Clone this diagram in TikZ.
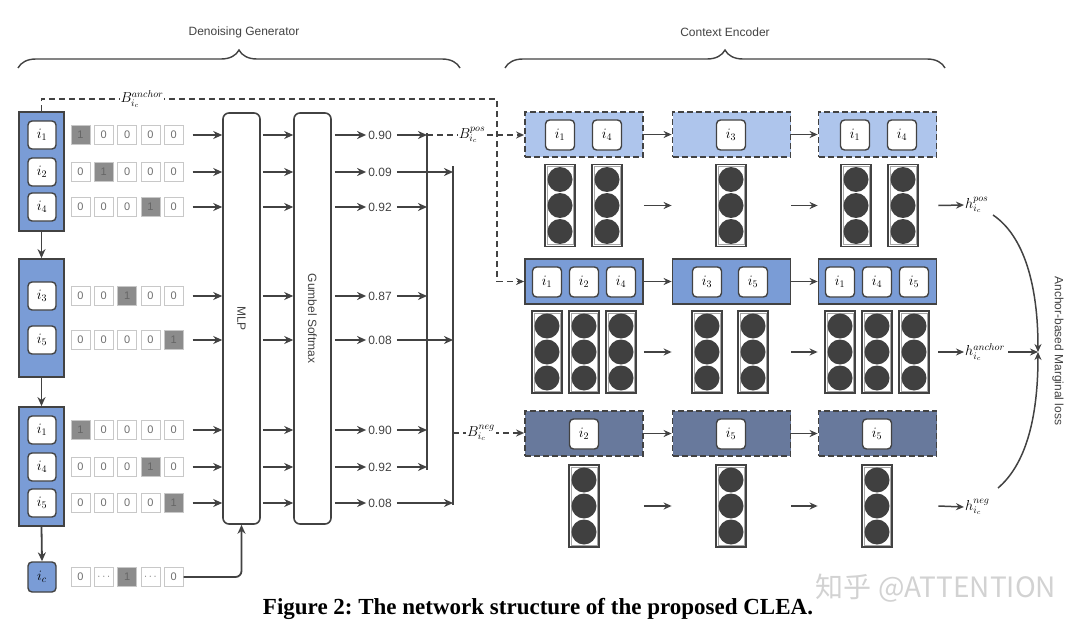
\documentclass[tikz,border=0pt]{standalone}
\usepackage{fontspec}
\setsansfont{Liberation Sans}
\newfontfamily\capfont{Liberation Serif}
\newfontfamily\cjkfont{Noto Sans CJK SC}
\usetikzlibrary{arrows.meta,decorations.pathreplacing,calc}
\definecolor{dk}{RGB}{66,66,66}
\definecolor{lblue}{RGB}{122,156,214}
\definecolor{pblue}{RGB}{174,197,236}
\definecolor{nblue}{RGB}{104,121,156}
\definecolor{neuc}{RGB}{64,64,64}
\definecolor{hotc}{RGB}{140,140,140}
\definecolor{cellb}{RGB}{200,200,200}
\definecolor{celltx}{RGB}{110,110,110}
\frenchspacing
\begin{document}
\begin{tikzpicture}[x=1pt,y=-1pt,
  arr/.style={draw=dk, line width=1.8pt, -{Stealth[length=9pt,width=8pt]}},
  arrs/.style={draw=dk, line width=1.5pt, -{Stealth[length=8pt,width=7pt]}},
  dsh/.style={draw=dk, line width=1.4pt, dash pattern=on 6pt off 4pt},
  item/.style={draw=dk, fill=white, rounded corners=4pt, line width=1.4pt, minimum width=28pt, minimum height=28pt, inner sep=0pt, font=\fontsize{14}{14}\selectfont},
  ritem/.style={item, minimum width=29pt, minimum height=30pt},
  lgrp/.style={draw=dk, line width=1.8pt, fill=lblue, minimum width=45pt, inner sep=0pt},
  agrp/.style={draw=dk, line width=1.8pt, fill=lblue, minimum width=118pt, minimum height=45pt, inner sep=0pt},
  pgrp/.style={agrp, fill=pblue, dash pattern=on 6pt off 3pt},
  ngrp/.style={agrp, fill=nblue, dash pattern=on 6pt off 3pt},
  cell/.style={draw=cellb, fill=white, line width=0.8pt, minimum size=19pt, inner sep=0pt, text=celltx, font=\sffamily\fontsize{11}{11}\selectfont},
  hot/.style={cell, fill=hotc, text=black!60},
  col/.style={rectangle, draw=dk, fill=white, line width=1.6pt, minimum width=30pt, minimum height=82pt, inner sep=0pt},
  colin/.style={rectangle, draw=gray!70, line width=0.6pt, minimum width=26pt, minimum height=78pt, inner sep=0pt},
  neu/.style={circle, fill=neuc, minimum size=25pt, inner sep=0pt},
  num/.style={font=\sffamily\fontsize{12}{12}\selectfont, text=dk, inner sep=2pt},
  lab/.style={font=\sffamily\fontsize{12}{12}\selectfont, text=dk},
  mlab/.style={font=\fontsize{14}{14}\selectfont, fill=white, inner sep=1pt},
  hlab/.style={font=\fontsize{14}{14}\selectfont, inner sep=1pt, anchor=west},
  bigbox/.style={draw=dk, line width=1.6pt, rounded corners=6pt, minimum width=37pt, minimum height=411pt, inner sep=0pt},
  busl/.style={draw=dk, line width=2.4pt},
  brc/.style={draw=dk, line width=1.4pt, decorate, decoration={brace, amplitude=18pt}}
]
\useasboundingbox (0,0) rectangle (1080,634);

% braces and titles
\coordinate (bl1) at (18,68); \coordinate (bl2) at (460,68);
\coordinate (br1) at (505,68); \coordinate (br2) at (945,68);
\draw[brc] (bl1) -- (bl2);
\draw[brc] (br1) -- (br2);
\node[lab] (tden) at (244,32) {Denoising Generator};
\node[lab] (tctx) at (725,32) {Context Encoder};

% left groups
\node[lgrp, minimum height=119pt] (L1) at (41.5,171.5) {};
\node[lgrp, minimum height=118pt] (L2) at (41.5,318) {};
\node[lgrp, minimum height=119pt] (L3) at (41.5,466.5) {};
\node[item] (l1) at (42,135) {$i_1$};
\node[item] (l2) at (42,172) {$i_2$};
\node[item] (l3) at (42,207) {$i_4$};
\node[item] (l4) at (42,296) {$i_3$};
\node[item] (l5) at (42,340) {$i_5$};
\node[item] (l6) at (42,430) {$i_1$};
\node[item] (l7) at (42,467) {$i_4$};
\node[item] (l8) at (42,503) {$i_5$};
\node[item, fill=lblue, minimum height=30pt] (ic) at (42,577) {$i_c$};
\draw[arr] (L1.south) -- (L2.north);
\draw[arr] (L2.south) -- (L3.north);
\draw[arr] (L3.south) -- (ic.north);

% MLP and Gumbel
\node[bigbox] (M) at (241.5,318.5) {};
\node[bigbox] (G) at (312.5,318.5) {};
\node[lab, rotate=-90] (Mlab) at (M.center) {MLP};
\node[lab, rotate=-90] (Glab) at (G.center) {Gumbel Softmax};

% buses
\coordinate (b1top) at (427,133); \coordinate (b1bot) at (470,470);
\coordinate (bus1) at (427,300); \coordinate (bus2) at (453,300);
\coordinate (b2top) at (453,166); \coordinate (b2bot) at (453,505);
\draw[busl] (b1top) -- (b1top |- b1bot);
\draw[busl] (b2top) -- (b2bot);

% one-hot rows
\foreach \r/\y/\h/\v/\bs in {1/135/1/0.90/1, 2/172/2/0.09/2, 3/207/4/0.92/1, 4/296/3/0.87/1, 5/340/5/0.08/2, 6/430/1/0.90/1, 7/467/4/0.92/1, 8/503/5/0.08/2} {
  \foreach \k [evaluate=\k as \cx using 80.5+(\k-1)*23.3] in {1,...,5} {
    \ifnum\k=\h
      \node[hot] (v\r\k) at (\cx,\y) {1};
    \else
      \node[cell] (v\r\k) at (\cx,\y) {0};
    \fi
  }
  \node[num] (n\r) at (380,\y) {\v};
  \draw[arr] (v\r5.east) ++(9pt,0) -- (v\r5 -| M.west);
  \draw[arr] (M.east |- n\r) ++(2pt,0) -- (G.west |- n\r);
  \draw[arr] (G.east |- n\r) ++(3pt,0) -- (n\r.west);
  \draw[arr] (n\r.east) ++(3pt,0) -- (n\r -| bus\bs);
}
% ic row
\foreach \k/\t [evaluate=\k as \cx using 80.5+(\k-1)*23.3] in {1/0, 2/$\cdots$, 3/1, 4/$\cdots$, 5/0} {
  \ifnum\k=3
    \node[hot] (vc\k) at (\cx,577) {\t};
  \else
    \node[cell] (vc\k) at (\cx,577) {\t};
  \fi
}
\draw[arr, rounded corners=6pt] (vc5.east) -| (M.south);

% right groups
\node[pgrp] (P1) at (584,134.5) {};
\node[pgrp] (P2) at (731.5,134.5) {};
\node[pgrp] (P3) at (877.5,134.5) {};
\node[agrp] (A1) at (584,281.5) {};
\node[agrp] (A2) at (731.5,281.5) {};
\node[agrp] (A3) at (877.5,281.5) {};
\node[ngrp] (N1) at (584,433.5) {};
\node[ngrp] (N2) at (731.5,433.5) {};
\node[ngrp] (N3) at (877.5,433.5) {};

\node[ritem] (p11) at (560,135) {$i_1$};
\node[ritem] (p12) at (607,135) {$i_4$};
\node[ritem] (p21) at (731,135) {$i_3$};
\node[ritem] (p31) at (855,135) {$i_1$};
\node[ritem] (p32) at (902,135) {$i_4$};
\node[ritem] (a11) at (547,282) {$i_1$};
\node[ritem] (a12) at (584,282) {$i_2$};
\node[ritem] (a13) at (621,282) {$i_4$};
\node[ritem] (a21) at (707,282) {$i_3$};
\node[ritem] (a22) at (753,282) {$i_5$};
\node[ritem] (a31) at (840,282) {$i_1$};
\node[ritem] (a32) at (877,282) {$i_4$};
\node[ritem] (a33) at (914,282) {$i_5$};
\node[ritem] (n11) at (584,434) {$i_2$};
\node[ritem] (n21) at (731,434) {$i_5$};
\node[ritem] (n31) at (877,434) {$i_5$};

\draw[arrs] (P1.east) -- (P2.west);
\draw[arrs] (P2.east) -- (P3.west);
\draw[arrs] (A1.east) -- (A2.west);
\draw[arrs] (A2.east) -- (A3.west);
\draw[arrs] (N1.east) -- (N2.west);
\draw[arrs] (N2.east) -- (N3.west);

% neuron columns
\foreach \nm/\x/\y in {pc1/560/205.5, pc2/607/205.5, pc3/731/205.5, pc4/856/205.5, pc5/903/205.5,
  ac1/547/352, ac2/584/352, ac3/621/352, ac4/707/352, ac5/753/352, ac6/840/352, ac7/877/352, ac8/914/352,
  nc1/584/506, nc2/731/506, nc3/877/506} {
  \node[col] (\nm) at (\x,\y) {};
  \node[colin] (\nm i) at (\x,\y) {};
  \foreach \d/\q in {-26/a, 0/b, 26/c} {
    \node[neu] (\nm\q) at (\x,\y+\d) {};
  }
}
\draw[arrs] (P1.east |- pc1b) -- (P2.west |- pc1b);
\draw[arrs] (P2.east |- pc1b) -- (P3.west |- pc1b);
\draw[arrs] (A1.east |- ac1b) -- (A2.west |- ac1b);
\draw[arrs] (A2.east |- ac1b) -- (A3.west |- ac1b);
\draw[arrs] (N1.east |- nc1b) -- (N2.west |- nc1b);
\draw[arrs] (N2.east |- nc1b) -- (N3.west |- nc1b);

% outputs
\node[hlab] (hpos) at (964,205) {$h^{pos}_{i_c}$};
\node[hlab] (hanc) at (964,352) {$h^{anchor}_{i_c}$};
\node[hlab] (hneg) at (964,507) {$h^{neg}_{i_c}$};
\draw[arrs] (P3.east |- pc5b) ++(1pt,0) -- (hpos.west);
\draw[arrs] (A3.east |- ac8b) ++(1pt,0) -- (hanc.west);
\draw[arrs] (N3.east |- nc3b) ++(1pt,0) -- (hneg.west);
\coordinate (loss) at (1038,352);
\coordinate (cpos) at (993,215);
\coordinate (cneg) at (998,488);
\draw[arrs] (hanc.east) ++(2pt,0) -- (loss);
\draw[arrs] (cpos) .. controls (1024,236) and (1038,285) .. (loss);
\draw[arrs] (cneg) .. controls (1025,465) and (1038,420) .. (loss);
\node[lab, rotate=-90] (losslab) at (1058,351) {Anchor-based Marginal loss};

% dashed connectors
\coordinate (ancc) at (497,99);
\draw[dsh, -{Stealth[length=8pt,width=7pt]}] (L1.north) |- (ancc) |- (A1.west);
\node[mlab] (lanc) at (142,99) {$B^{anchor}_{i_c}$};
\coordinate (pstart) at (427,135);
\coordinate (nstart) at (453,433);
\draw[dsh, -{Stealth[length=8pt,width=7pt]}] (pstart) -- (P1.west |- pstart);
\node[mlab] (lpos) at (472,135) {$B^{pos}_{i_c}$};
\draw[dsh, -{Stealth[length=8pt,width=7pt]}] (nstart) -- (N1.west |- nstart);
\node[mlab] (lneg) at (481,433) {$B^{neg}_{i_c}$};

% caption and watermark
\node[font=\capfont\bfseries\fontsize{23}{23}\selectfont, inner sep=0pt] (cap) at (538,609) {Figure 2: The network structure of the proposed CLEA.};
\node[font=\cjkfont\fontsize{28}{28}\selectfont, text=gray!35, inner sep=0pt] (wm) at (936,588) {知乎 @ATTENTION};
\end{tikzpicture}
\end{document}
